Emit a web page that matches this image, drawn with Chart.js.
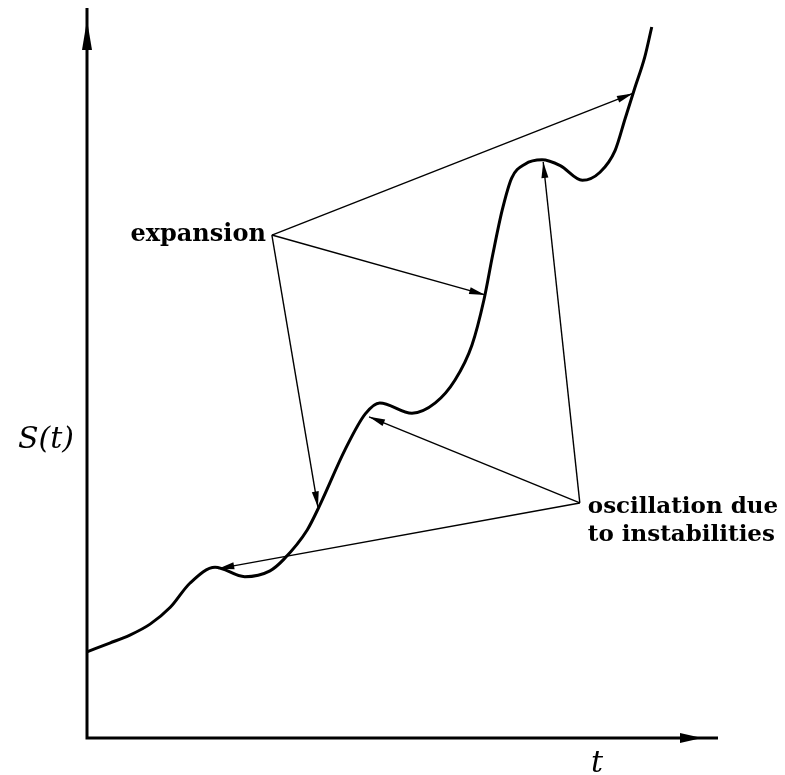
<!DOCTYPE html>
<html>
<head>
<meta charset="utf-8">
<script src="https://cdn.jsdelivr.net/npm/chart.js@4/dist/chart.umd.min.js"></script>
<style>
body{margin:0;background:#fff}
canvas{display:block}
</style>
</head>
<body>
<canvas id="myChart" width="785" height="775"></canvas>
<script>
// curve S(t) (t and S both on 0..100)
const tValues=[0,3.6,6.8,10.0,13.2,16.3,20.3,25.0,29.0,31.1,34.9,36.9,40.9,44.1,46.4,51.5,55.2,58.3,61.0,62.9,64.3,65.8,67.3,69.4,72.1,75.0,78.5,81.3,83.7,85.3,86.8,88.4,89.5];
const sValues=[11.8,13.0,14.1,15.6,17.9,21.2,23.4,22.1,22.9,24.4,28.5,31.9,39.5,44.4,45.9,44.5,45.9,49.0,53.8,60.0,66.2,72.3,76.7,78.6,79.2,78.4,76.4,77.5,80.5,84.9,89.0,93.3,97.4];

// annotations: label, where the lines start, where they point
const expansionLabel=['expansion'];
const expansionFrom=[29.3,68.9];
const expansionTo=[[86.5,88.3],[63.1,60.7],[36.6,31.6]];
const oscillationLabel=['oscillation due','to instabilities'];
const oscillationFrom=[78.1,32.2];
const oscillationTo=[[72.3,78.9],[44.7,44.0],[20.8,23.2]];

const xLabel='t';
const yLabel='S(t)';

let myChart;

function arrowHead(ctx,x0,y0,x1,y1,len,half){
	const a=Math.atan2(y1-y0,x1-x0);
	ctx.beginPath();
	ctx.moveTo(x1,y1);
	ctx.lineTo(x1-len*Math.cos(a)+half*Math.sin(a),y1-len*Math.sin(a)-half*Math.cos(a));
	ctx.lineTo(x1-len*Math.cos(a)-half*Math.sin(a),y1-len*Math.sin(a)+half*Math.cos(a));
	ctx.closePath();
	ctx.fill();
}

const sketchPlugin={
	id:'sketch',
	afterDraw(chart){
		const ctx=chart.ctx;
		const xs=chart.scales.x, ys=chart.scales.y;
		const area=chart.chartArea;
		ctx.save();
		ctx.strokeStyle='#000';
		ctx.fillStyle='#000';

		// axes with arrows
		ctx.lineWidth=3;
		ctx.beginPath();
		ctx.moveTo(area.left,area.top);
		ctx.lineTo(area.left,area.bottom);
		ctx.lineTo(area.right,area.bottom);
		ctx.stroke();
		arrowHead(ctx,area.left,area.bottom,area.left,area.top+12,30,5);
		arrowHead(ctx,area.left,area.bottom,area.right-16,area.bottom,22,5);

		// annotation arrows
		ctx.lineWidth=1.4;
		const groups=[[expansionFrom,expansionTo],[oscillationFrom,oscillationTo]];
		groups.forEach(([from,to])=>{
			const fx=xs.getPixelForValue(from[0]), fy=ys.getPixelForValue(from[1]);
			to.forEach(p=>{
				const tx=xs.getPixelForValue(p[0]), ty=ys.getPixelForValue(p[1]);
				ctx.beginPath();
				ctx.moveTo(fx,fy);
				ctx.lineTo(tx,ty);
				ctx.stroke();
				arrowHead(ctx,fx,fy,tx,ty,16,3.5);
			});
		});

		// texts
		ctx.font='bold 24px "DejaVu Serif"';
		ctx.textAlign='right';
		ctx.textBaseline='alphabetic';
		ctx.fillText(expansionLabel[0],xs.getPixelForValue(expansionFrom[0])-6,ys.getPixelForValue(expansionFrom[1])+6);
		ctx.font='bold 23px "DejaVu Serif"';
		ctx.textAlign='left';
		const ox=xs.getPixelForValue(oscillationFrom[0])+8, oy=ys.getPixelForValue(oscillationFrom[1]);
		oscillationLabel.forEach((s,i)=>ctx.fillText(s,ox,oy+10+i*28));

		ctx.font='italic 30px "DejaVu Serif"';
		ctx.textAlign='left';
		ctx.fillText(yLabel,18,448);
		ctx.fillText(xLabel,591,772);
		ctx.restore();
	}
};

function drawChart(){
	const points=tValues.map((t,i)=>({x:t,y:sValues[i]}));
	let config={
		type:'scatter',
		data:{
			datasets:[{
				label:yLabel,
				data:points,
				showLine:true,
				borderColor:'#000',
				borderWidth:3,
				pointRadius:0,
				cubicInterpolationMode:'monotone',
				fill:false,
				clip:false
			}]
		},
		options:{
			animation:false,
			responsive:false,
			devicePixelRatio:1,
			layout:{padding:{left:87,right:67,top:8,bottom:37}},
			plugins:{legend:{display:false},tooltip:{enabled:false}},
			scales:{
				x:{type:'linear',min:0,max:100,display:false},
				y:{type:'linear',min:0,max:100,display:false}
			}
		},
		plugins:[sketchPlugin]
	};
	if(typeof myChart=='object'){
		myChart.destroy();
	}
	myChart=new Chart(document.getElementById('myChart'),config);
}

drawChart();
</script>
</body>
</html>
